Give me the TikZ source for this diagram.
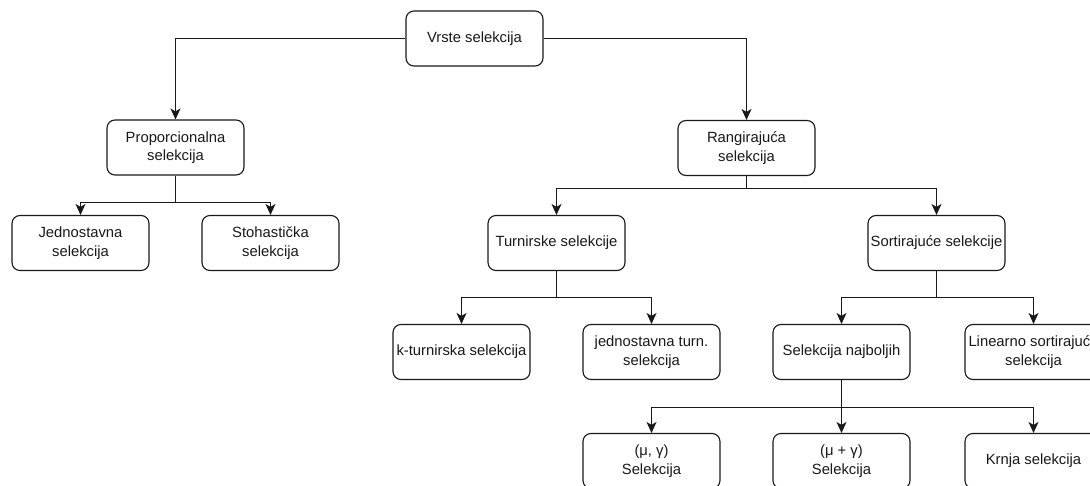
\documentclass[tikz,border=0pt]{standalone}
\usepackage{fontspec}
\setmainfont{Liberation Sans}
\usetikzlibrary{arrows.meta}
\begin{document}
\begin{tikzpicture}[x=1pt,y=-1pt,
  box/.style={draw=black!90, line width=1.1pt, rounded corners=8pt, fill=white,
    minimum width=137pt, minimum height=55pt, inner sep=1pt, align=center,
    text=black!90, font=\fontsize{14.8pt}{18.5pt}\selectfont},
  arr/.style={draw=black!90, line width=1pt,
    -{Stealth[length=11pt,width=10pt,inset=3pt]}}]
\useasboundingbox (0,0) rectangle (1090,486);
\fill[white] (0,0) rectangle (1090,486);
% nodes
\node[box] (vrste) at (474.5,38.5) {Vrste selekcija};
\node[box] (prop) at (175.5,147.5) {Proporcionalna\\selekcija};
\node[box] (rang) at (746.5,148) {Rangirajuća\\selekcija};
\node[box] (jedn) at (80.5,243) {Jednostavna\\selekcija};
\node[box] (stoh) at (270.5,243) {Stohastička\\selekcija};
\node[box] (turn) at (556.5,243) {Turnirske selekcije};
\node[box] (sort) at (936.5,243) {Sortirajuće selekcije};
\node[box] (kturn) at (461.5,352) {k-turnirska selekcija};
\node[box] (jturn) at (651.5,352) {jednostavna turn.\\selekcija};
\node[box] (najb) at (841.5,352) {Selekcija najboljih};
\node[box] (lin) at (1033.5,352) {Linearno sortirajuća\\selekcija};
\node[box] (mi1) at (651.5,461) {(μ, γ)\\Selekcija};
\node[box] (mi2) at (841.5,461) {(μ + γ)\\Selekcija};
\node[box] (krnja) at (1033.5,461) {Krnja selekcija};
% junction levels
\coordinate (jA) at (0,202.5);
\coordinate (jB) at (0,188.5);
\coordinate (jC) at (0,297.5);
\coordinate (jD) at (0,407.5);
% connectors
\draw[arr] (vrste.west) -| (prop.north);
\draw[arr] (vrste.east) -| (rang.north);
\draw[arr] (prop.south) -- (prop.south |- jA) -| (jedn.north);
\draw[arr] (prop.south |- jA) -| (stoh.north);
\draw[arr] (rang.south) -- (rang.south |- jB) -| (turn.north);
\draw[arr] (rang.south |- jB) -| (sort.north);
\draw[arr] (turn.south) -- (turn.south |- jC) -| (kturn.north);
\draw[arr] (turn.south |- jC) -| (jturn.north);
\draw[arr] (sort.south) -- (sort.south |- jC) -| (najb.north);
\draw[arr] (sort.south |- jC) -| (lin.north);
\draw[arr] (najb.south) -- (mi2.north);
\draw[arr] (najb.south |- jD) -| (mi1.north);
\draw[arr] (najb.south |- jD) -| (krnja.north);
\end{tikzpicture}
\end{document}
